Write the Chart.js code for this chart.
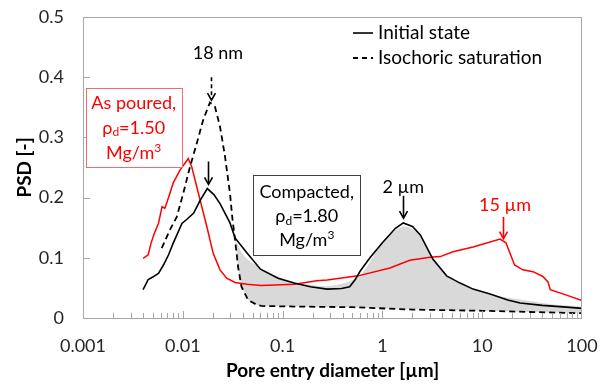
<!DOCTYPE html>
<html><head><meta charset="utf-8">
<script src="https://cdn.jsdelivr.net/npm/chart.js@4/dist/chart.umd.min.js"></script>
<style>html,body{margin:0;padding:0;background:#fff}#wrap{width:606px;height:387px}</style>
</head><body><div id="wrap"><canvas id="c" width="606" height="387"></canvas></div>
<script>
// ---- data ----
const initialX = [0.004,0.0045,0.005,0.0057,0.0064,0.0072,0.008,0.0098,0.011,0.0128,0.015,0.0176,0.0205,0.0236,0.0297,0.0334,0.044,0.06,0.09,0.13,0.19,0.28,0.39,0.47,0.53,0.6,0.75,1.0,1.35,1.62,2.0,2.4,3.2,4.4,6,8.1,12,18,24,40,70,100];
const initialY = [0.047,0.064,0.068,0.074,0.088,0.105,0.124,0.157,0.164,0.174,0.196,0.215,0.205,0.19,0.158,0.133,0.108,0.081,0.066,0.058,0.052,0.048,0.049,0.052,0.063,0.078,0.1,0.125,0.149,0.158,0.152,0.138,0.098,0.07,0.058,0.048,0.04,0.03,0.025,0.021,0.018,0.016];

const isochoricX = [0.00615,0.0074,0.0087,0.0101,0.0118,0.0138,0.016,0.0187,0.021,0.0236,0.0265,0.0297,0.0315,0.0334,0.0358,0.0387,0.0451,0.055,0.0613,0.132,0.5,2,10,30,100];
const isochoricY = [0.116,0.146,0.168,0.207,0.251,0.29,0.329,0.358,0.351,0.318,0.268,0.207,0.163,0.13,0.085,0.052,0.03,0.022,0.02,0.019,0.018,0.014,0.012,0.01,0.008];

const pouredX = [0.004,0.0045,0.0048,0.0052,0.0057,0.0062,0.0066,0.0072,0.008,0.0094,0.0105,0.01135,0.0123,0.0138,0.0155,0.0174,0.0202,0.0236,0.0275,0.0334,0.044,0.061,0.132,0.22,0.28,0.57,1.19,1.88,3.0,3.8,5.1,8.1,15.1,17.3,21.1,25.6,32.3,40.5,45.6,48.1,70,100];
const pouredY = [0.099,0.105,0.124,0.141,0.157,0.185,0.182,0.2,0.224,0.246,0.257,0.265,0.251,0.218,0.185,0.152,0.107,0.08,0.066,0.059,0.056,0.054,0.056,0.062,0.063,0.07,0.083,0.096,0.101,0.102,0.11,0.118,0.131,0.125,0.088,0.08,0.077,0.069,0.06,0.047,0.038,0.029];

const shadeX = [0.0334,0.0417,0.0613,0.09,0.132,0.194,0.282,0.418,0.57,0.7,1.0,1.38,1.68,2.0,2.58,3.2,4.1,5.5,8.8,15,25.6,50,100];
const shadeY = [0.13,0.102,0.082,0.069,0.06,0.055,0.053,0.058,0.068,0.085,0.127,0.147,0.152,0.148,0.13,0.1,0.074,0.06,0.047,0.036,0.03,0.023,0.019];

const xTickValues = [0.001,0.01,0.1,1,10,100];
const xTickLabels = ["0.001","0.01","0.1","1","10","100"];
const yTickValues = [0,0.1,0.2,0.3,0.4,0.5];
const yTickLabels = ["0","0.1","0.2","0.3","0.4","0.5"];

const seriesNames = ["Initial state","Isochoric saturation"];
const xTitle = "Pore entry diameter [\u00b5m]";
const yTitle = "PSD [-]";

const pts = (xs, ys) => xs.map((x, i) => ({x: x, y: ys[i]}));
const FONT = "Lato, 'Open Sans', sans-serif";

// annotation anchors in data units
const notes = {
  peak18: {label: "18 nm", tx: 0.0225, ty: 0.44, ax: 0.0192, a1: 0.40, a2: 0.362},
  peakBlack: {ax: 0.018, a1: 0.26, a2: 0.222},
  peak2: {label: "2 \u00b5m", tx: 1.62, ty: 0.218, ax: 1.62, a1: 0.203, a2: 0.166},
  peak15: {label: "15 \u00b5m", tx: 16.9, ty: 0.188, ax: 16.1, a1: 0.168, a2: 0.132},
  boxRed: {x1: 0.001064, x2: 0.00975, y1: 0.3826, y2: 0.2513, cx: 0.00322, lines: [0.357, 0.3156, 0.274], t1: "As poured,", rho: "1.50"},
  boxBlack: {x1: 0.0508, x2: 0.597, y1: 0.2375, y2: 0.1047, cx: 0.1746, lines: [0.2098, 0.1683, 0.1296], t1: "Compacted,", rho: "1.80"},
  legend: {lx1: 0.507, lx2: 0.805, tx: 0.904, rows: [0.4734, 0.4319]}
};

function rich(ctx, parts, cx, cy, color) {
  let w = 0;
  parts.forEach(p => { ctx.font = p.size + 'px ' + FONT; p.w = ctx.measureText(p.t).width; w += p.w; });
  let x = cx - w / 2;
  ctx.textAlign = 'left'; ctx.textBaseline = 'middle'; ctx.fillStyle = color;
  parts.forEach(p => { ctx.font = p.size + 'px ' + FONT; ctx.fillText(p.t, x, cy + (p.dy || 0)); x += p.w; });
}
function arrow(ctx, x, y1, y2, color, dash) {
  ctx.save();
  ctx.strokeStyle = color; ctx.lineWidth = 1.6;
  ctx.setLineDash(dash || []);
  ctx.beginPath(); ctx.moveTo(x, y1); ctx.lineTo(x, y2 - 1); ctx.stroke();
  ctx.setLineDash([]);
  ctx.beginPath(); ctx.moveTo(x - 4, y2 - 7); ctx.lineTo(x, y2); ctx.lineTo(x + 4, y2 - 7); ctx.stroke();
  ctx.restore();
}

const decor = {
  id: 'decor',
  afterDraw(chart) {
    const ctx = chart.ctx, xs = chart.scales.x, ys = chart.scales.y, a = chart.chartArea;
    const X = v => xs.getPixelForValue(v), Y = v => ys.getPixelForValue(v);
    ctx.save();
    // frame
    ctx.strokeStyle = '#a6a6a6'; ctx.lineWidth = 1;
    ctx.strokeRect(Math.round(a.left) + 0.5, Math.round(a.top) + 0.5, Math.round(a.right - a.left) - 1, Math.round(a.bottom - a.top));
    // inner ticks
    ctx.beginPath();
    yTickValues.forEach(v => { const y = Math.round(Y(v)) + 0.5; ctx.moveTo(a.left, y); ctx.lineTo(a.left + 7, y); });
    for (let d = 0.001; d < 99; d *= 10) {
      for (let k = 1; k <= 9; k++) {
        const x = Math.round(X(k * d)) + 0.5, len = k === 1 ? 7 : 5;
        ctx.moveTo(x, a.bottom); ctx.lineTo(x, a.bottom - len);
      }
    }
    ctx.stroke();

    // legend
    const L = notes.legend;
    ctx.strokeStyle = '#000'; ctx.lineWidth = 1.6;
    ctx.beginPath(); ctx.moveTo(X(L.lx1), Y(L.rows[0])); ctx.lineTo(X(L.lx2), Y(L.rows[0])); ctx.stroke();
    ctx.setLineDash([5, 4]); ctx.lineWidth = 1.8;
    ctx.beginPath(); ctx.moveTo(X(L.lx1), Y(L.rows[1])); ctx.lineTo(X(L.lx2), Y(L.rows[1])); ctx.stroke();
    ctx.setLineDash([]);
    ctx.font = '19px ' + FONT; ctx.fillStyle = '#000'; ctx.textAlign = 'left'; ctx.textBaseline = 'middle';
    ctx.fillText(seriesNames[0], X(L.tx), Y(L.rows[0]));
    ctx.fillText(seriesNames[1], X(L.tx), Y(L.rows[1]));

    // peak labels and arrows
    const n18 = notes.peak18;
    rich(ctx, [{t: n18.label, size: 18}], X(n18.tx), Y(n18.ty), '#000');
    arrow(ctx, Math.round(X(n18.ax)) + 0.5, Y(n18.a1), Y(n18.a2), '#000', [4, 3]);
    const nb = notes.peakBlack;
    arrow(ctx, Math.round(X(nb.ax)) + 0.5, Y(nb.a1), Y(nb.a2), '#000');
    const n2 = notes.peak2;
    rich(ctx, [{t: n2.label, size: 18}], X(n2.tx), Y(n2.ty), '#000');
    arrow(ctx, Math.round(X(n2.ax)) + 0.5, Y(n2.a1), Y(n2.a2), '#000');
    const n15 = notes.peak15;
    rich(ctx, [{t: n15.label, size: 18}], X(n15.tx), Y(n15.ty), '#ff0000');
    arrow(ctx, Math.round(X(n15.ax)) + 0.5, Y(n15.a1), Y(n15.a2), '#ff0000');

    // boxes
    [[notes.boxRed, '#ff0000', '#f26b6b'], [notes.boxBlack, '#000', '#404040']].forEach(([b, col, border]) => {
      const x1 = Math.round(X(b.x1)) + 0.5, x2 = Math.round(X(b.x2)) + 0.5, y1 = Math.round(Y(b.y1)) + 0.5, y2 = Math.round(Y(b.y2)) + 0.5;
      ctx.fillStyle = '#fff'; ctx.fillRect(x1, y1, x2 - x1, y2 - y1);
      ctx.strokeStyle = border; ctx.lineWidth = 1; ctx.strokeRect(x1, y1, x2 - x1, y2 - y1);
      const cx = X(b.cx);
      rich(ctx, [{t: b.t1, size: 18}], cx, Y(b.lines[0]), col);
      rich(ctx, [{t: "\u03c1", size: 18}, {t: "d", size: 12, dy: 4}, {t: "=" + b.rho, size: 18}], cx, Y(b.lines[1]), col);
      rich(ctx, [{t: "Mg/m", size: 18}, {t: "3", size: 12, dy: -5}], cx, Y(b.lines[2]), col);
    });
    ctx.restore();
  }
};

new Chart(document.getElementById('c'), {
  type: 'line',
  data: {
    datasets: [
      {label: seriesNames[0], data: pts(initialX, initialY), borderColor: '#000', borderWidth: 1.6, pointRadius: 0, tension: 0, fill: false},
      {label: seriesNames[1], data: pts(isochoricX, isochoricY), borderColor: '#000', borderWidth: 1.8, borderDash: [6, 4], pointRadius: 0, tension: 0, fill: false},
      {label: 'As poured', data: pts(pouredX, pouredY), borderColor: '#ff0000', borderWidth: 1.5, pointRadius: 0, tension: 0, fill: false},
      {label: 'shade', data: pts(shadeX, shadeY), borderColor: 'rgba(0,0,0,0)', borderWidth: 0, backgroundColor: '#d9d9d9', pointRadius: 0, tension: 0.3, fill: {target: 1}}
    ]
  },
  options: {
    responsive: false, animation: false, devicePixelRatio: 1,
    layout: {padding: {top: 17, right: 24, left: 0, bottom: 0}},
    plugins: {legend: {display: false}, tooltip: {enabled: false}, filler: {propagate: false}},
    scales: {
      x: {
        type: 'logarithmic', min: 0.001, max: 100,
        afterBuildTicks: s => { s.ticks = xTickValues.map(v => ({value: v})); },
        afterFit: s => { s.height = 69; s.paddingLeft = 0; s.paddingRight = 0; },
        grid: {display: false, drawTicks: false}, border: {display: false},
        ticks: {autoSkip: false, maxRotation: 0, minRotation: 0, padding: 17, color: '#262626', font: {family: FONT, size: 18},
          callback: (v, i) => xTickLabels[i]},
        title: {display: true, text: xTitle, color: '#000', font: {family: FONT, size: 19, weight: 'bold'}, padding: {top: 0, bottom: 5}}
      },
      y: {
        type: 'linear', min: 0, max: 0.5,
        afterBuildTicks: s => { s.ticks = yTickValues.map(v => ({value: v})); },
        afterFit: s => { s.width = 83; s.paddingTop = 0; s.paddingBottom = 0; },
        grid: {display: false, drawTicks: false}, border: {display: false},
        ticks: {padding: 19, color: '#262626', font: {family: FONT, size: 18}, callback: (v, i) => yTickLabels[i]},
        title: {display: true, text: yTitle, color: '#000', font: {family: FONT, size: 19, weight: 'bold'}, padding: {top: 13, bottom: 0}}
      }
    }
  },
  plugins: [decor]
});
</script>
</body></html>
